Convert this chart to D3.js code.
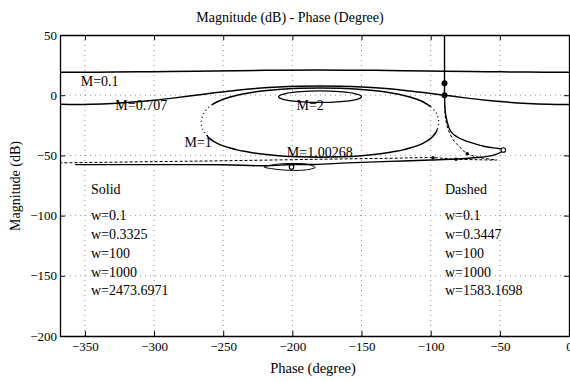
<!DOCTYPE html>
<html><head><meta charset="utf-8">
<script src="https://cdn.jsdelivr.net/npm/d3@7"></script>
<style>
body{margin:0;background:#fff}
svg text{font-family:"Liberation Serif","Times New Roman",serif;fill:#000}
</style>
</head><body><svg id="c" width="570" height="381" font-family="Liberation Serif, serif"></svg>
<script>
// ---- data ----
const xTicks = [-350,-300,-250,-200,-150,-100,-50,0];
const yTicks = [50,0,-50,-100,-150,-200];
// M contours: [phase deg, magnitude dB]
const mC01 = [[-368,19.1],[-360,19.09],[-330,19.2],[-300,19.52],[-270,19.96],[-240,20.39],[-210,20.71],[-180,20.83],[-150,20.71],[-120,20.39],[-90,19.96],[-60,19.52],[-30,19.2],[0,19.09]];
const mC0707 = [[-368,-7.6],[-360,-7.66],[-345,-7.44],[-330,-6.8],[-315,-5.72],[-300,-4.18],[-285,-2.22],[-270,0],[-255,2.22],[-240,4.18],[-225,5.72],[-210,6.8],[-195,7.44],[-180,7.66],[-165,7.44],[-150,6.8],[-135,5.72],[-120,4.18],[-105,2.22],[-90,0],[-75,-2.22],[-60,-4.18],[-45,-5.72],[-30,-6.8],[-15,-7.44],[0,-7.66]];
const mC2 = [[-180,3.52],[-165.9,2.97],[-156.2,1.66],[-151.3,0.16],[-150,-1.25],[-151,-2.46],[-153.4,-3.47],[-156.9,-4.29],[-160.9,-4.93],[-170.1,-5.75],[-175,-5.95],[-180,-6.02],[-185,-5.95],[-189.9,-5.75],[-199.1,-4.93],[-203.1,-4.29],[-206.6,-3.47],[-209,-2.46],[-210,-1.25],[-208.7,0.16],[-203.8,1.66],[-194.1,2.97]];
const mC1Upper = [[-100,-9.54],[-105,-5.85],[-110,-3.36],[-115,-1.49],[-120,0],[-125,1.21],[-130,2.16],[-135,3.1],[-150,4.73],[-165,5.68],[-180,6.05],[-195,5.68],[-210,4.73],[-225,3.1],[-230,2.16],[-235,1.21],[-240,0],[-245,-1.49],[-250,-3.36],[-255,-5.85],[-258,-7.8]];
const mC1Lower = [[-262,-33],[-260,-35.85],[-255,-39.55],[-250,-42.05],[-245,-43.92],[-240,-45.4],[-235,-46.6],[-230,-47.6],[-225,-48.43],[-210,-50.2],[-195,-51.15],[-180,-51.45],[-165,-51.15],[-150,-50.2],[-135,-48.43],[-130,-47.6],[-125,-46.6],[-120,-45.4],[-115,-43.92],[-110,-42.05],[-105,-39.55],[-100,-35.85],[-97,-32.27],[-95.2,-28.5]];
const mC1TipL = [[-258,-7.8],[-260,-9.54],[-263,-13.14],[-265,-17.36],[-265.85,-22.7],[-265,-28.04],[-262,-33]];
const mC1TipR = [[-100,-9.54],[-97,-13.14],[-95,-17.36],[-94.2,-22.7],[-95.2,-28.5]];
// open-loop responses
const solidResp = [[-90,62],[-90,30],[-90,10],[-90,0],[-89.7,-10],[-89.2,-16],[-88.3,-21],[-86.8,-27],[-84.5,-31.5],[-81,-34.5],[-76,-37.3],[-69,-40],[-60,-42.8],[-47.5,-45.5],[-54,-49.5],[-66,-51.8],[-82,-53],[-100,-53.8],[-130,-55],[-160,-56.2],[-183.6,-57.5],[-200,-57.6],[-220.5,-58.6],[-250,-57.8],[-290,-57.7],[-330,-57.7],[-357,-57.7]];
const solidLoop = [[-220.5,-59.6],[-210,-57.2],[-198,-56.7],[-188,-57.6],[-183.6,-60],[-190,-62],[-202,-62.4],[-214,-61.2]];
const dashedResp = [[-90,62],[-90,10],[-90,0],[-89.8,-12],[-89.2,-20],[-87.5,-28],[-83.6,-37.2],[-79,-43],[-74,-48.3],[-66,-51.4],[-56,-53.3],[-52.3,-53.8],[-66,-53.6],[-81.7,-53.2],[-98.3,-51.9],[-130,-52.4],[-180,-53.2],[-240,-54.3],[-300,-55.2],[-368,-56.2]];
const filledMarks = [[-90,10],[-90,0]];
const openMarks = [[-47.5,-45.5],[-200.6,-59.6]];
const smallMarks = [[-98.3,-51.9],[-81.7,-53.2],[-73.6,-48.6]];
const mLabels = [["M=0.1",-353,86],["M=0.707",-328,110],["M=2",-197,110],["M=1",-278,147],["M=1.00268",-204,157]];
const solidText = ["Solid","w=0.1","w=0.3325","w=100","w=1000","w=2473.6971"];
const dashedText = ["Dashed","w=0.1","w=0.3447","w=100","w=1000","w=1583.1698"];

// ---- drawing ----
const svg = d3.select("#c");
svg.append("rect").attr("width",570).attr("height",381).attr("fill","#fff");
const x = d3.scaleLinear().domain([-368,0]).range([60,569]);
const y = d3.scaleLinear().domain([-200,50]).range([336,35]);

svg.append("clipPath").attr("id","cp").append("rect")
  .attr("x",60).attr("y",35).attr("width",509).attr("height",301);

// grid
const gg = svg.append("g");
gg.selectAll(".gx").data(xTicks.filter(d=>d>-368&&d<0)).join("line")
  .attr("x1",d=>x(d)).attr("x2",d=>x(d)).attr("y1",y(50)).attr("y2",y(-200))
  .attr("stroke","#888").attr("stroke-width",0.9).attr("stroke-dasharray","1,4");
gg.selectAll(".gy").data(yTicks.filter(d=>d<50&&d>-200)).join("line")
  .attr("y1",d=>y(d)).attr("y2",d=>y(d)).attr("x1",x(-368)).attr("x2",x(0))
  .attr("stroke","#888").attr("stroke-width",0.9).attr("stroke-dasharray","1,4");

// curves
const lineO = d3.line().x(d=>x(d[0])).y(d=>y(d[1])).curve(d3.curveCatmullRom);
const lineC = d3.line().x(d=>x(d[0])).y(d=>y(d[1])).curve(d3.curveCatmullRomClosed);
const pg = svg.append("g").attr("clip-path","url(#cp)").attr("fill","none").attr("stroke","#000");
pg.append("path").attr("d",lineO(mC01)).attr("stroke-width",1.5);
pg.append("path").attr("d",lineO(mC0707)).attr("stroke-width",1.5);
pg.append("path").attr("d",lineC(mC2)).attr("stroke-width",1.3);
pg.append("path").attr("d",lineO(mC1Upper)).attr("stroke-width",1.5);
pg.append("path").attr("d",lineO(mC1Lower)).attr("stroke-width",1.5);
pg.append("path").attr("d",lineO(mC1TipL)).attr("stroke-width",1.3).attr("stroke-dasharray","1,3");
pg.append("path").attr("d",lineO(mC1TipR)).attr("stroke-width",1.3).attr("stroke-dasharray","1,3");
pg.append("path").attr("d",lineO(solidResp)).attr("stroke-width",1.4);
pg.append("path").attr("d",lineC(solidLoop)).attr("stroke-width",1);
pg.append("path").attr("d",lineO(dashedResp)).attr("stroke-width",1).attr("stroke-dasharray","3,2");

// markers
svg.selectAll(".fm").data(filledMarks).join("circle")
  .attr("cx",d=>x(d[0])).attr("cy",d=>y(d[1])).attr("r",3).attr("fill","#000");
svg.selectAll(".om").data(openMarks).join("circle")
  .attr("cx",d=>x(d[0])).attr("cy",d=>y(d[1])).attr("r",2.3).attr("fill","#fff").attr("stroke","#000").attr("stroke-width",1.1);
svg.selectAll(".sm").data(smallMarks).join("circle")
  .attr("cx",d=>x(d[0])).attr("cy",d=>y(d[1])).attr("r",1.7).attr("fill","#000");

// axes
const ax = svg.append("g");
const axB = d3.axisBottom(x).tickValues(xTicks).tickSizeInner(-5).tickSizeOuter(0).tickPadding(5.5).tickFormat(d3.format("d"));
const axL = d3.axisLeft(y).tickValues(yTicks).tickSizeInner(-5).tickSizeOuter(0).tickPadding(3).tickFormat(d3.format("d"));
const axT = d3.axisTop(x).tickValues(xTicks).tickSizeInner(-5).tickSizeOuter(0).tickFormat("");
const axR = d3.axisRight(y).tickValues(yTicks).tickSizeInner(-5).tickSizeOuter(0).tickFormat("");
ax.append("g").attr("transform","translate(0,336)").call(axB);
ax.append("g").attr("transform","translate(60,0)").call(axL);
ax.append("g").attr("transform","translate(0,35)").call(axT);
ax.append("g").attr("transform","translate(569,0)").call(axR);
ax.selectAll("g").attr("font-family","Liberation Serif, serif");
ax.selectAll(".domain").attr("stroke","#000").attr("stroke-width",1.3);
ax.selectAll(".tick line").attr("stroke","#000");
ax.selectAll(".tick text").style("font-size","13px").style("font-family","'Liberation Serif',serif");

// texts
svg.append("text").attr("x",290).attr("y",22).attr("text-anchor","middle").style("font-size","14px").text("Magnitude (dB) - Phase (Degree)");
svg.append("text").attr("x",313).attr("y",373).attr("text-anchor","middle").style("font-size","14.5px").text("Phase (degree)");
svg.append("text").attr("transform","translate(20,186) rotate(-90)").attr("text-anchor","middle").style("font-size","14px").text("Magnitude (dB)");

svg.selectAll(".ml").data(mLabels).join("text")
  .attr("x",d=>x(d[1])).attr("y",d=>y(0)+(d[2]-95.2)).style("font-size","14px").text(d=>d[0]);

const rows = [194,220,239,258,277,295];
svg.selectAll(".st").data(solidText).join("text").attr("x",91).attr("y",(d,i)=>rows[i]).style("font-size","14px").text(d=>d);
svg.selectAll(".dt").data(dashedText).join("text").attr("x",445).attr("y",(d,i)=>rows[i]).style("font-size","14px").text(d=>d);
</script>
</body></html>
